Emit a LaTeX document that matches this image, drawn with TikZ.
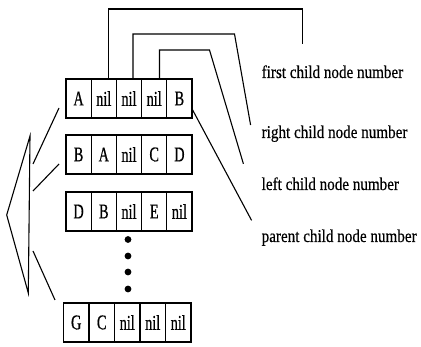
\documentclass[tikz,border=0pt]{standalone}
\usepackage{fontspec}
\setmainfont{Liberation Serif}
\newfontfamily\cellfont[FakeStretch=0.68,FakeBold=0.6]{Liberation Serif}
\newfontfamily\labelfont[FakeStretch=0.84,FakeBold=0.5]{Liberation Serif}
\begin{document}
\begin{tikzpicture}[x=1pt,y=-1pt,
  cell/.style={draw,line width=1.3pt,inner sep=0pt,minimum height=39pt,
    font=\cellfont\fontsize{21}{21}\selectfont},
  link/.style={line width=1.1pt},
  caption/.style={anchor=base west,inner sep=0pt,
    font=\labelfont\fontsize{18}{18}\selectfont},
  dotmark/.style={circle,fill,inner sep=0pt,minimum size=6.8pt}]
\useasboundingbox (0,0) rectangle (421,347);

% table rows: name / y centre / left edge / cell width / entries
\foreach \r/\y/\x/\w/\entries in {
    A/98.5/66/25.2/{A,nil,nil,nil,B},
    B/154.5/66/25.2/{B,A,nil,C,D},
    D/211.5/66/25.2/{D,B,nil,E,nil},
    G/322.5/63.5/25.5/{G,C,nil,nil,nil}}{
  \foreach \t [count=\i] in \entries {
    \node[cell,minimum width=\w pt] (\r\i) at ({\x+(\i-0.5)*\w},\y) {\t};
  }
}

% vertical ellipsis between the rows
\foreach \yy [count=\k] in {239.5,256,272,289}
  \node[dotmark] (dot\k) at (128,\yy) {};

% field captions
\node[caption] (lfirst)  at (261.5,78)  {first child node number};
\node[caption] (lright)  at (261.5,138) {right child node number};
\node[caption] (lleft)   at (261.5,190) {left child node number};
\node[caption] (lparent) at (261.5,242) {parent child node number};

% leader lines from the fields of the first row
\coordinate (k1) at (302.6,9);    \coordinate (e1) at (302.6,44.4);
\coordinate (k2) at (234.5,34);   \coordinate (e2) at (250.6,125);
\coordinate (k3) at (209.5,50);   \coordinate (e3) at (243.4,163.8);
\coordinate (e4) at (251.6,220.4);
\draw[link] ([xshift=4.7pt]A2.north) |- (k1) -- (e1);
\draw[link] ([xshift=4pt]A3.north) |- (k2) -- (e2);
\draw[link] ([xshift=5.3pt]A4.north) |- (k3) -- (e3);
\draw[link] ([yshift=-11.5pt]A5.east) -- (e4);

% bracket grouping the rows
\draw[link,line join=miter] (30,136) -- (6.7,215) -- (28.3,293) -- cycle;
\coordinate (b1s) at (59,108);  \coordinate (b1e) at (33,164);
\coordinate (b2s) at (59,164);  \coordinate (b2e) at (33,191);
\coordinate (b3s) at (33,251);  \coordinate (b3e) at (55,300);
\draw[link] (b1s) -- (b1e);
\draw[link] (b2s) -- (b2e);
\draw[link] (b3s) -- (b3e);
\end{tikzpicture}
\end{document}
